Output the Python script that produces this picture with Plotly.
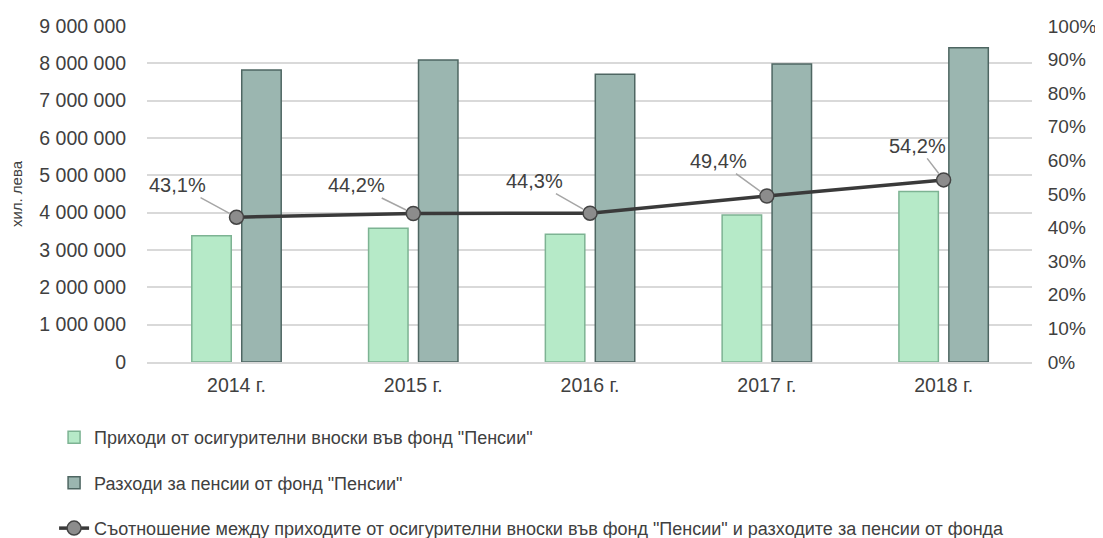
import plotly.graph_objects as go

years = ["2014 г.", "2015 г.", "2016 г.", "2017 г.", "2018 г."]
revenue = [3380000, 3580000, 3420000, 3940000, 4570000]
expenses = [7820000, 8090000, 7710000, 7980000, 8420000]
ratio = [43.1, 44.2, 44.3, 49.4, 54.2]
ratio_labels = ["43,1%", "44,2%", "44,3%", "49,4%", "54,2%"]
left_ticks = [0, 1000000, 2000000, 3000000, 4000000, 5000000, 6000000, 7000000, 8000000, 9000000]
left_tick_text = ["0", "1 000 000", "2 000 000", "3 000 000", "4 000 000", "5 000 000",
                  "6 000 000", "7 000 000", "8 000 000", "9 000 000"]
right_ticks = [0, 10, 20, 30, 40, 50, 60, 70, 80, 90, 100]
right_tick_text = [f"{v}%" for v in right_ticks]

name_rev = 'Приходи от осигурителни вноски във фонд "Пенсии"'
name_exp = 'Разходи за пенсии от фонд "Пенсии"'
name_ratio = 'Съотношение между приходите от осигурителни вноски във фонд "Пенсии" и разходите за пенсии от фонда'

FONT = "Liberation Sans, Arial, sans-serif"
TXT = "#404040"
CLEAR = "rgba(0,0,0,0)"

fig = go.Figure()
fig.add_trace(go.Bar(x=years, y=revenue, name=name_rev, legendgroup="a",
                     marker=dict(color="#b6eac8", line=dict(color="#7db393", width=1.5))))
fig.add_trace(go.Bar(x=years, y=expenses, name=name_exp, legendgroup="b",
                     marker=dict(color="#9bb6b0", line=dict(color="#4e6662", width=1.5))))
fig.add_trace(go.Scatter(x=years, y=ratio, name=name_ratio, yaxis="y2", legendgroup="c",
                         mode="lines+markers",
                         line=dict(color="#3a3a3a", width=3.5),
                         marker=dict(size=14, color="#8c8c8c",
                                     line=dict(color="#444444", width=1.5))))

offsets = [(-59, -32), (-57, -28), (-56, -32), (-48, -35), (-26, -34)]
for x, r, lab, (ax, ay) in zip(years, ratio, ratio_labels, offsets):
    fig.add_annotation(x=x, y=r, xref="x", yref="y2", text=lab, showarrow=True,
                       ax=ax, ay=ay, arrowhead=0, arrowwidth=1.5, arrowcolor="#a6a6a6",
                       standoff=8, startstandoff=0,
                       font=dict(family=FONT, size=20, color=TXT))

fig.update_layout(
    width=1095, height=530,
    margin=dict(l=139, r=71, t=18, b=176, autoexpand=False),
    paper_bgcolor="white", plot_bgcolor="white",
    barmode="group", bargap=0.435, bargroupgap=0.21,
    font=dict(family=FONT, size=18, color=TXT),
    showlegend=True,
    legend=dict(orientation="v", x=-0.105, xanchor="left", y=-0.17, yanchor="top",
                tracegroupgap=19, font=dict(family=FONT, size=18, color=TXT),
                bgcolor=CLEAR, traceorder="grouped"),
    xaxis=dict(showgrid=False, showline=True, linecolor="#d9d9d9", linewidth=2,
               automargin=False, ticks="outside", ticklen=5, tickcolor=CLEAR,
               tickfont=dict(size=19.5, color=TXT)),
    yaxis=dict(range=[0, 9000000], tickvals=left_ticks, ticktext=left_tick_text,
               showgrid=True, gridcolor="#d9d9d9", gridwidth=2, zeroline=False,
               automargin=False, ticks="outside", ticklen=16, tickcolor=CLEAR,
               tickfont=dict(size=19.5, color=TXT),
               title=dict(text="хил. лева", font=dict(size=15, color=TXT), standoff=24)),
    yaxis2=dict(range=[0, 100], tickvals=right_ticks, ticktext=right_tick_text,
                overlaying="y", side="right", showgrid=False, zeroline=False,
                automargin=False, tickfont=dict(size=19, color=TXT),
                ticks="outside", ticklen=11, tickcolor=CLEAR),
)

fig.write_html("out.html")
